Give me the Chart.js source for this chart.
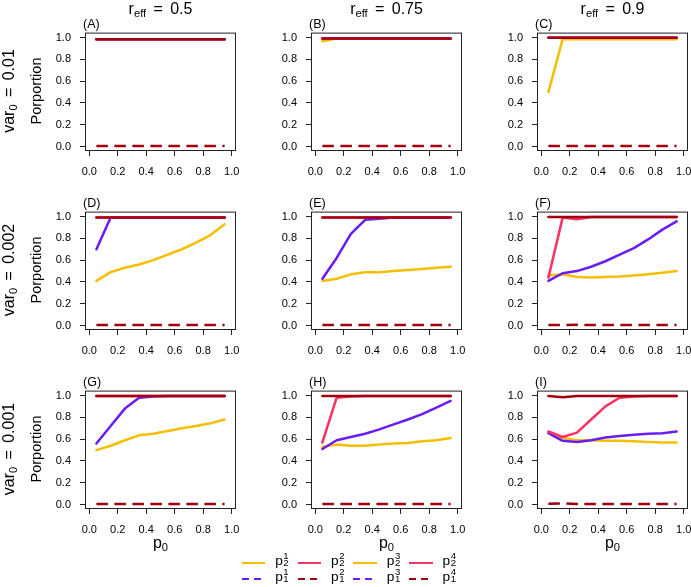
<!DOCTYPE html>
<html>
<head>
<meta charset="utf-8">
<title>Proportion panels</title>
<script src="https://cdn.jsdelivr.net/npm/chart.js@4.4.1/dist/chart.umd.min.js"></script>
<style>
  body { margin: 0; background: #fff; }
  #fig { position: relative; width: 691px; height: 587px; overflow: hidden;
         font-family: "Liberation Sans", Arial, sans-serif; color: #000; }
  #fig canvas { position: absolute; }
  .t { position: absolute; white-space: nowrap; line-height: 1; }
  .sub { font-size: 0.7em; position: relative; top: 0.3em; }
  .eq { margin: 0 2.9px; }
  .rot { transform: translate(-50%, -50%) rotate(-90deg); }
  .ctr { transform: translateX(-50%); }
  .st { display: inline-block; position: relative; width: 7px; height: 0; }
  .st span { position: absolute; left: 0.5px; font-size: 9.6px; line-height: 1; }
  .ln { position: absolute; height: 2px; width: 23.5px; }
</style>
</head>
<body>
<div id="fig"></div>
<script>
/* ── data ─────────────────────────────────────────────────────────────────── */
const P0      = [0.05, 0.15, 0.25, 0.35, 0.45, 0.55, 0.65, 0.75, 0.85, 0.95];
const X_TICKS = [0, 0.2, 0.4, 0.6, 0.8, 1.0];
const Y_TICKS = [0, 0.2, 0.4, 0.6, 0.8, 1.0];

const R_EFF  = ['0.5', '0.75', '0.9'];
const VAR0   = ['0.01', '0.002', '0.001'];
const LABELS = ['(A)', '(B)', '(C)', '(D)', '(E)', '(F)', '(G)', '(H)', '(I)'];

// (A)
const A_gold   = [0.985, 0.985, 0.985, 0.985, 0.985, 0.985, 0.985, 0.985, 0.985, 0.985];
const A_violet = [0.985, 0.985, 0.985, 0.985, 0.985, 0.985, 0.985, 0.985, 0.985, 0.985];
const A_pink   = [0.985, 0.985, 0.985, 0.985, 0.985, 0.985, 0.985, 0.985, 0.985, 0.985];
const A_red    = [0.985, 0.985, 0.985, 0.985, 0.985, 0.985, 0.985, 0.985, 0.985, 0.985];
const A_dash   = [0.005, 0.005, 0.005, 0.005, 0.005, 0.005, 0.005, 0.005, 0.005, 0.005];
// (B)
const B_gold   = [0.965, 0.99, 0.99, 0.99, 0.99, 0.99, 0.99, 0.99, 0.99, 0.99];
const B_violet = [0.99, 0.99, 0.99, 0.99, 0.99, 0.99, 0.99, 0.99, 0.99, 0.99];
const B_pink   = [0.99, 0.99, 0.99, 0.99, 0.99, 0.99, 0.99, 0.99, 0.99, 0.99];
const B_red    = [0.99, 0.99, 0.99, 0.99, 0.99, 0.99, 0.99, 0.99, 0.99, 0.99];
const B_dash   = [0.005, 0.005, 0.005, 0.005, 0.005, 0.005, 0.005, 0.005, 0.005, 0.005];
// (C)
const C_gold   = [0.50, 0.985, 0.985, 0.985, 0.985, 0.985, 0.985, 0.985, 0.985, 0.985];
const C_violet = [0.997, 0.997, 0.997, 0.997, 0.997, 0.997, 0.997, 0.997, 0.997, 0.997];
const C_pink   = [0.997, 0.997, 0.997, 0.997, 0.997, 0.997, 0.997, 0.997, 0.997, 0.997];
const C_red    = [0.997, 0.997, 0.997, 0.997, 0.997, 0.997, 0.997, 0.997, 0.997, 0.997];
const C_dash   = [0.005, 0.005, 0.005, 0.005, 0.005, 0.005, 0.005, 0.005, 0.005, 0.005];
// (D)
const D_gold   = [0.41, 0.49, 0.53, 0.56, 0.60, 0.65, 0.70, 0.76, 0.83, 0.93];
const D_violet = [0.70, 0.99, 0.99, 0.99, 0.99, 0.99, 0.99, 0.99, 0.99, 0.99];
const D_pink   = [0.99, 0.99, 0.99, 0.99, 0.99, 0.99, 0.99, 0.99, 0.99, 0.99];
const D_red    = [0.99, 0.99, 0.99, 0.99, 0.99, 0.99, 0.99, 0.99, 0.99, 0.99];
const D_dash   = [0.005, 0.005, 0.005, 0.005, 0.005, 0.005, 0.005, 0.005, 0.005, 0.005];
// (E)
const E_gold   = [0.41, 0.43, 0.47, 0.49, 0.49, 0.50, 0.51, 0.52, 0.53, 0.54];
const E_violet = [0.43, 0.62, 0.84, 0.97, 0.98, 0.99, 0.99, 0.99, 0.99, 0.99];
const E_pink   = [0.99, 0.99, 0.99, 0.99, 0.99, 0.99, 0.99, 0.99, 0.99, 0.99];
const E_red    = [0.99, 0.99, 0.99, 0.99, 0.99, 0.99, 0.99, 0.99, 0.99, 0.99];
const E_dash   = [0.005, 0.005, 0.005, 0.005, 0.005, 0.005, 0.005, 0.005, 0.005, 0.005];
// (F)
const F_gold   = [0.46, 0.47, 0.445, 0.44, 0.445, 0.45, 0.46, 0.47, 0.485, 0.50];
const F_violet = [0.41, 0.48, 0.50, 0.54, 0.59, 0.65, 0.71, 0.79, 0.88, 0.955];
const F_pink   = [0.44, 0.99, 0.975, 0.995, 0.995, 0.995, 0.995, 0.995, 0.995, 0.995];
const F_red    = [0.995, 0.995, 0.995, 0.995, 0.995, 0.995, 0.995, 0.995, 0.995, 0.995];
const F_dash   = [0.005, 0.005, 0.008, 0.006, 0.005, 0.005, 0.005, 0.005, 0.005, 0.005];
// (G)
const G_gold   = [0.50, 0.54, 0.59, 0.635, 0.65, 0.675, 0.70, 0.72, 0.745, 0.78];
const G_violet = [0.56, 0.72, 0.88, 0.98, 0.99, 0.995, 0.995, 0.995, 0.995, 0.995];
const G_pink   = [0.995, 0.995, 0.995, 0.995, 0.995, 0.995, 0.995, 0.995, 0.995, 0.995];
const G_red    = [0.995, 0.995, 0.995, 0.995, 0.995, 0.995, 0.995, 0.995, 0.995, 0.995];
const G_dash   = [0.005, 0.005, 0.005, 0.005, 0.005, 0.005, 0.005, 0.005, 0.005, 0.005];
// (H)
const H_gold   = [0.53, 0.55, 0.54, 0.54, 0.55, 0.56, 0.565, 0.58, 0.59, 0.61];
const H_violet = [0.51, 0.59, 0.62, 0.65, 0.69, 0.735, 0.78, 0.83, 0.89, 0.95];
const H_pink   = [0.57, 0.98, 0.99, 0.995, 0.995, 0.995, 0.995, 0.995, 0.995, 0.995];
const H_red    = [0.995, 0.995, 0.995, 0.995, 0.995, 0.995, 0.995, 0.995, 0.995, 0.995];
const H_dash   = [0.005, 0.005, 0.005, 0.005, 0.005, 0.005, 0.005, 0.005, 0.005, 0.005];
// (I)
const I_gold   = [0.66, 0.61, 0.59, 0.59, 0.585, 0.585, 0.58, 0.575, 0.57, 0.57];
const I_violet = [0.655, 0.585, 0.575, 0.59, 0.615, 0.63, 0.64, 0.65, 0.655, 0.67];
const I_pink   = [0.67, 0.62, 0.66, 0.78, 0.90, 0.98, 0.99, 0.995, 0.995, 0.995];
const I_red    = [0.995, 0.985, 0.995, 0.995, 0.995, 0.995, 0.995, 0.995, 0.995, 0.995];
const I_dash   = [0.008, 0.012, 0.005, 0.005, 0.005, 0.005, 0.005, 0.005, 0.005, 0.005];

// legend (column-wise, as R fills it)
const LEG_SUP   = ['1', '1', '2', '2', '3', '3', '4', '4'];
const LEG_SUB   = ['2', '1', '2', '1', '2', '1', '2', '1'];
const LEG_COLOR = ['gold', 'violet', 'pink', 'red', 'gold', 'violet', 'pink', 'red'];
const LEG_DASH  = [false, true, false, true, false, true, false, true];

/* ── styling / layout ─────────────────────────────────────────────────────── */
const COLORS = { gold: '#F6BE00', violet: '#6A1CF6', pink: '#FA3262', red: '#A0000F' };

const BOX_LEFT = [85, 311, 537];
const BOX_TOP  = [31, 210, 389];
const BOX_W = 151, BOX_H = 120;
const PAD_L = 70, PAD_T = 14, PAD_R = 14, PAD_B = 40;
const FONT = '"Liberation Sans", Arial, sans-serif';

const fig = document.getElementById('fig');

function addText(html, left, top, cls, size) {
  const d = document.createElement('div');
  d.className = 't ' + (cls || '');
  d.style.left = left + 'px';
  d.style.top = top + 'px';
  d.style.fontSize = size + 'px';
  d.innerHTML = html;
  fig.appendChild(d);
  return d;
}

// full R-style box around the plot region
const boxPlugin = {
  id: 'rbox',
  afterDatasetsDraw(chart) {
    const { ctx, chartArea: a } = chart;
    ctx.save();
    ctx.strokeStyle = '#222';
    ctx.lineWidth = 1;
    ctx.strokeRect(a.left + 0.5, a.top + 0.5, a.right - a.left - 1, a.bottom - a.top - 1);
    ctx.restore();
  }
};

function axis(ticks, min, max, fit) {
  return {
    type: 'linear', min, max,
    border: { display: false },
    grid: { display: true, drawOnChartArea: false, drawTicks: true, tickLength: 5, color: '#222' },
    afterBuildTicks: s => { s.ticks = ticks.map(v => ({ value: v })); },
    afterFit: fit,
    ticks: { color: '#000', font: { family: FONT, size: 11 }, padding: 9,
             callback: v => Number(v).toFixed(1) }
  };
}

function line(vals, color, dashed) {
  return {
    data: P0.map((x, i) => ({ x, y: vals[i] })),
    borderColor: COLORS[color],
    borderWidth: 2.5,
    borderDash: dashed ? [11.5, 6.5] : [],
    borderCapStyle: dashed ? 'butt' : 'round',
    borderJoinStyle: 'round',
    pointRadius: 0,
    tension: 0,
    fill: false
  };
}

function makePanel(idx, gold, violet, pink, red, dash) {
  const col = idx % 3, row = Math.floor(idx / 3);
  const cv = document.createElement('canvas');
  cv.width = PAD_L + BOX_W + PAD_R;
  cv.height = PAD_T + BOX_H + PAD_B;
  cv.style.left = (BOX_LEFT[col] - PAD_L) + 'px';
  cv.style.top = (BOX_TOP[row] - PAD_T) + 'px';
  fig.appendChild(cv);

  new Chart(cv, {
    type: 'line',
    data: {
      // first dataset is drawn on top
      datasets: [
        line(red, 'red'),
        line(pink, 'pink'),
        line(violet, 'violet'),
        line(gold, 'gold'),
        line(dash, 'red', true)
      ]
    },
    options: {
      responsive: false,
      animation: false,
      events: [],
      layout: { padding: { left: 0, top: PAD_T, right: PAD_R, bottom: 0 } },
      plugins: { legend: { display: false }, tooltip: { enabled: false } },
      scales: {
        x: axis(X_TICKS, -0.03, 1.03, s => { s.height = PAD_B; }),
        y: axis(Y_TICKS, -0.04, 1.045, s => { s.width = PAD_L; })
      }
    },
    plugins: [boxPlugin]
  });

  addText(LABELS[idx], BOX_LEFT[col] - 2, BOX_TOP[row] - 13.2, '', 12.5);
}

/* ── panels ───────────────────────────────────────────────────────────────── */
makePanel(0, A_gold, A_violet, A_pink, A_red, A_dash);
makePanel(1, B_gold, B_violet, B_pink, B_red, B_dash);
makePanel(2, C_gold, C_violet, C_pink, C_red, C_dash);
makePanel(3, D_gold, D_violet, D_pink, D_red, D_dash);
makePanel(4, E_gold, E_violet, E_pink, E_red, E_dash);
makePanel(5, F_gold, F_violet, F_pink, F_red, F_dash);
makePanel(6, G_gold, G_violet, G_pink, G_red, G_dash);
makePanel(7, H_gold, H_violet, H_pink, H_red, H_dash);
makePanel(8, I_gold, I_violet, I_pink, I_red, I_dash);

/* ── titles ───────────────────────────────────────────────────────────────── */
R_EFF.forEach((v, c) => {
  addText('r<span class="sub">eff</span> <span class="eq">=</span> ' + v,
          BOX_LEFT[c] + BOX_W / 2, 0.5, 'ctr', 16);
});
VAR0.forEach((v, r) => {
  const cy = BOX_TOP[r] + BOX_H / 2;
  addText('var<span class="sub">0</span> <span class="eq">=</span> ' + v, 9, cy, 'rot', 16);
  addText('Porportion', 36.2, cy, 'rot', 14.5);
});
BOX_LEFT.forEach(l => {
  addText('p<span class="sub">0</span>', l + BOX_W / 2, 534.8, 'ctr', 16);
});

/* ── legend ───────────────────────────────────────────────────────────────── */
const LEG_X0 = 241.7, LEG_DX = 55.8, LEG_Y0 = 563, LEG_DY = 16;
LEG_SUP.forEach((sup, i) => {
  const c = Math.floor(i / 2), r = i % 2;
  const x = LEG_X0 + c * LEG_DX, y = LEG_Y0 + r * LEG_DY;
  const ln = document.createElement('div');
  ln.className = 'ln';
  ln.style.left = x + 'px';
  ln.style.top = (y - 1) + 'px';
  const col = COLORS[LEG_COLOR[i]];
  ln.style.background = LEG_DASH[i]
    ? `repeating-linear-gradient(to right, ${col} 0 7px, transparent 7px 12px)`
    : col;
  fig.appendChild(ln);

  const base = y + 2.4;
  addText('p<span class="st"><span style="top:-13.5px">' + sup +
          '</span><span style="top:-7px">' + LEG_SUB[i] + '</span></span>',
          x + 33.5, base - 0.8465 * 13.7, '', 13.7);
});
</script>
</body>
</html>
